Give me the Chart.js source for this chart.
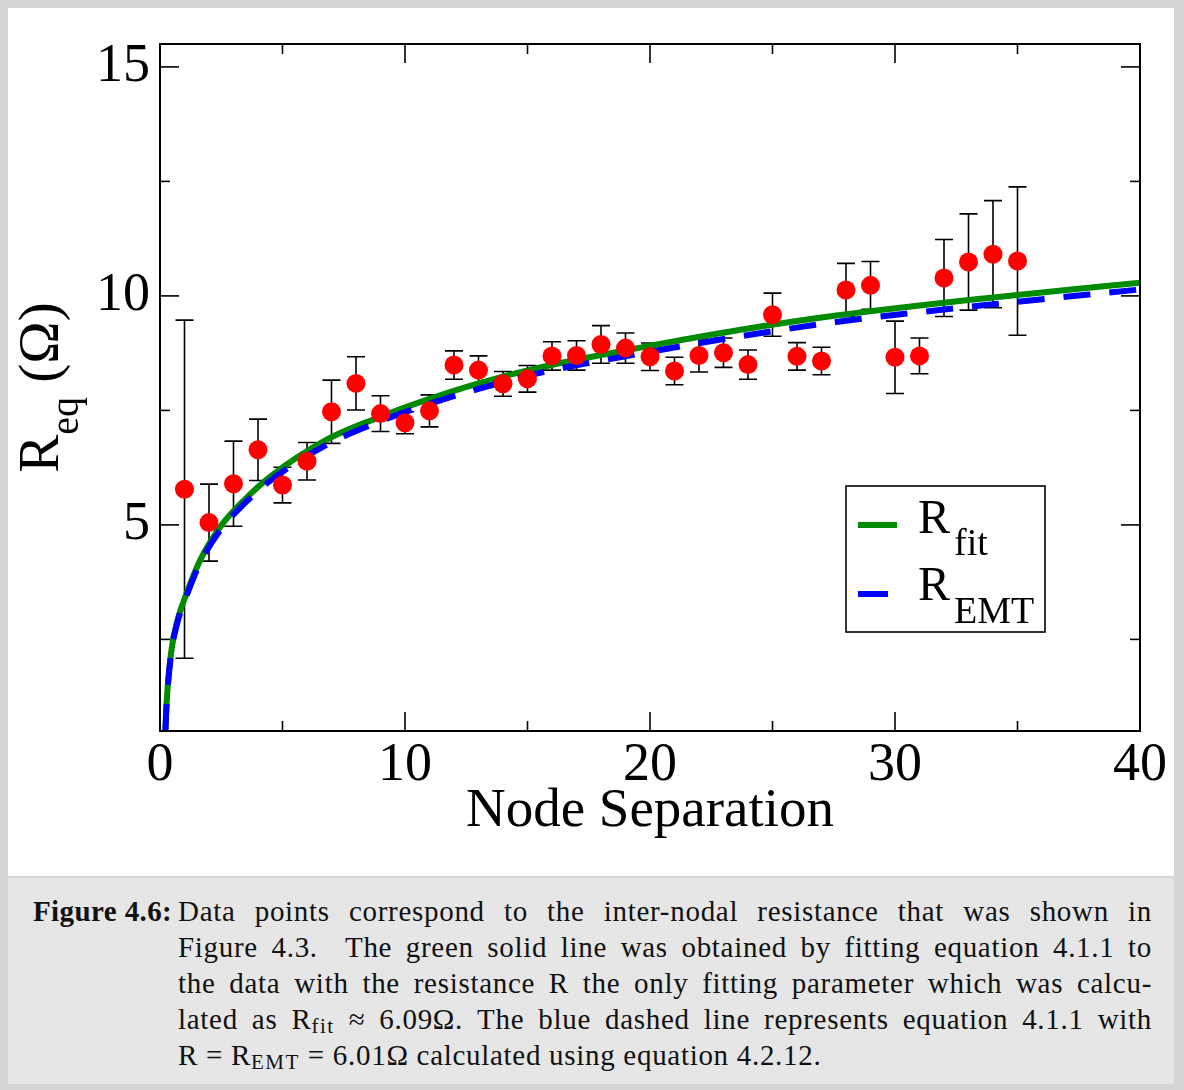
<!DOCTYPE html>
<html>
<head>
<meta charset="utf-8">
<script src="https://cdn.jsdelivr.net/npm/chart.js@4.4.0/dist/chart.umd.min.js"></script>
<style>
  html, body { margin: 0; padding: 0; }
  body { width: 1184px; height: 1090px; background: #d6d6d6; position: relative; overflow: hidden; }
  #plotBox { position: absolute; left: 8px; top: 8px; width: 1166px; height: 868px; background: #fff; }
  #caption { position: absolute; left: 8px; top: 878px; width: 1166px; height: 206px; background: #e6e6e6;
             font-family: "Liberation Serif", serif; font-size: 29px; letter-spacing: 0.7px; color: #111; }
  #caption .lab { position: absolute; left: 25px; top: 15px; line-height: 36px; font-weight: bold; letter-spacing: 0.4px; }
  #caption .body { position: absolute; left: 170px; top: 15px; width: 974px; }
  #caption .ln { line-height: 36px; height: 36px; text-align: justify; text-align-last: justify; white-space: nowrap; }
  #caption .ln.last { text-align-last: left; }
  #caption sub { font-size: 21px; vertical-align: -4px; letter-spacing: 1.5px; }
</style>
</head>
<body>
<div id="plotBox"><canvas id="chart" width="1166" height="868"></canvas></div>
<div id="caption">
  <div class="lab">Figure 4.6:</div>
  <div class="body">
    <div class="ln">Data points correspond to the inter-nodal resistance that was shown in</div>
    <div class="ln">Figure 4.3. &nbsp;The green solid line was obtained by fitting equation 4.1.1 to</div>
    <div class="ln">the data with the resistance R the only fitting parameter which was calcu-</div>
    <div class="ln">lated as R<sub>fit</sub> &asymp; 6.09&Omega;. The blue dashed line represents equation 4.1.1 with</div>
    <div class="ln last">R = R<sub>EMT</sub> = 6.01&Omega; calculated using equation 4.2.12.</div>
  </div>
</div>
<script>
// measured inter-nodal resistance
const nodeSep = [1, 2, 3, 4, 5, 6, 7, 8, 9, 10, 11, 12, 13, 14, 15, 16, 17, 18, 19, 20,
                 21, 22, 23, 24, 25, 26, 27, 28, 29, 30, 31, 32, 33, 34, 35];
const reqMean = [5.78, 5.05, 5.90, 6.64, 5.87, 6.39, 7.47, 8.09, 7.43, 7.23, 7.49, 8.49, 8.38, 8.08, 8.19,
                 8.69, 8.70, 8.94, 8.86, 8.67, 8.36, 8.70, 8.76, 8.50, 9.59, 8.68, 8.58, 10.13, 10.23, 8.66,
                 8.69, 10.39, 10.74, 10.91, 10.76];
const reqErr = [3.69, 0.84, 0.93, 0.67, 0.39, 0.41, 0.69, 0.58, 0.39, 0.24, 0.35, 0.31, 0.31, 0.27, 0.29,
                0.31, 0.32, 0.41, 0.33, 0.30, 0.30, 0.36, 0.32, 0.32, 0.47, 0.30, 0.30, 0.58, 0.52, 0.79,
                0.39, 0.84, 1.05, 1.17, 1.62];

// fitted curve (green) and EMT curve (blue)
const curveX = [0.22, 0.27, 0.45, 0.72, 1.09, 1.63, 2.45, 3.47, 4.49, 6.8, 8.84, 10.88, 12.93, 15.6, 19.6, 23.7, 27.6, 33.7, 40];
const rFit = [0.5, 1.11, 2.20, 2.93, 3.51, 4.22, 4.95, 5.56, 6.05, 6.86, 7.33, 7.73, 8.08, 8.45, 8.87, 9.26, 9.57, 9.95, 10.29];
const rEmt = [0.5, 1.09, 2.17, 2.89, 3.46, 4.16, 4.88, 5.48, 5.96, 6.75, 7.23, 7.62, 7.96, 8.33, 8.74, 9.12, 9.43, 9.80, 10.14];

// axis ticks
const xMajor = [0, 10, 20, 30, 40];
const xMinor = [5, 15, 25, 35];
const yMajor = [5, 10, 15];
const yMinor = [2.5, 7.5, 12.5];

const SERIF = '"Liberation Serif", "Times New Roman", serif';
const GREEN = '#008b00';
const BLUE = '#0000ff';

const pts = (xs, ys) => xs.map((v, i) => ({ x: v, y: ys[i] }));

const errorBars = {
  id: 'errorBars',
  beforeDatasetsDraw(chart) {
    const { ctx, chartArea: a, scales: { x, y } } = chart;
    ctx.save();
    ctx.beginPath();
    ctx.rect(a.left, a.top, a.right - a.left, a.bottom - a.top);
    ctx.clip();
    ctx.strokeStyle = '#000';
    ctx.lineWidth = 1.6;
    nodeSep.forEach((n, i) => {
      const px = x.getPixelForValue(n);
      const top = y.getPixelForValue(reqMean[i] + reqErr[i]);
      const bot = y.getPixelForValue(reqMean[i] - reqErr[i]);
      ctx.beginPath();
      ctx.moveTo(px, top); ctx.lineTo(px, bot);
      ctx.moveTo(px - 9, top); ctx.lineTo(px + 9, top);
      ctx.moveTo(px - 9, bot); ctx.lineTo(px + 9, bot);
      ctx.stroke();
    });
    ctx.restore();
  }
};

const frameAndTicks = {
  id: 'frameAndTicks',
  afterDatasetsDraw(chart) {
    const { ctx, chartArea: a, scales: { x, y } } = chart;
    ctx.save();
    ctx.strokeStyle = '#000';
    ctx.lineWidth = 1.6;
    const seg = (x1, y1, x2, y2) => { ctx.beginPath(); ctx.moveTo(x1, y1); ctx.lineTo(x2, y2); ctx.stroke(); };
    xMajor.forEach(v => { const p = x.getPixelForValue(v); seg(p, a.bottom, p, a.bottom - 19); seg(p, a.top, p, a.top + 19); });
    xMinor.forEach(v => { const p = x.getPixelForValue(v); seg(p, a.bottom, p, a.bottom - 10); seg(p, a.top, p, a.top + 10); });
    yMajor.forEach(v => { const p = y.getPixelForValue(v); seg(a.left, p, a.left + 19, p); seg(a.right, p, a.right - 19, p); });
    yMinor.forEach(v => { const p = y.getPixelForValue(v); seg(a.left, p, a.left + 10, p); seg(a.right, p, a.right - 10, p); });
    ctx.lineWidth = 2;
    ctx.strokeRect(a.left, a.top, a.right - a.left, a.bottom - a.top);
    ctx.restore();
  }
};

// axis titles and legend need subscripts, so they are drawn by hand
const labels = {
  id: 'labels',
  afterDraw(chart) {
    const { ctx, chartArea: a } = chart;
    ctx.save();
    ctx.fillStyle = '#000';
    ctx.textBaseline = 'alphabetic';

    // x title
    ctx.font = '55px ' + SERIF;
    ctx.textAlign = 'center';
    ctx.fillText('Node Separation', (a.left + a.right) / 2, a.bottom + 95);

    // y title
    ctx.textAlign = 'left';
    ctx.translate(50, (a.top + a.bottom) / 2);
    ctx.rotate(-Math.PI / 2);
    ctx.font = '57px ' + SERIF;
    const wR = ctx.measureText('R').width;
    const wP = ctx.measureText(' (\u03A9)').width;
    ctx.font = '40px ' + SERIF;
    const wS = ctx.measureText('eq').width;
    let sx = -(wR + wS + wP) / 2;
    ctx.font = '57px ' + SERIF;
    ctx.fillText('R', sx, 0);
    ctx.font = '40px ' + SERIF;
    ctx.fillText('eq', sx + wR, 20);
    ctx.font = '57px ' + SERIF;
    ctx.fillText(' (\u03A9)', sx + wR + wS, 0);
    ctx.setTransform(1, 0, 0, 1, 0, 0);

    // legend box
    const bx = a.right - 294, by = a.top + 442;
    ctx.fillStyle = '#fff';
    ctx.fillRect(bx, by, 199, 146);
    ctx.strokeStyle = '#000';
    ctx.lineWidth = 1.6;
    ctx.strokeRect(bx, by, 199, 146);
    ctx.lineWidth = 6;
    ctx.strokeStyle = GREEN;
    ctx.beginPath(); ctx.moveTo(bx + 12, by + 39); ctx.lineTo(bx + 51, by + 39); ctx.stroke();
    ctx.strokeStyle = BLUE;
    ctx.beginPath(); ctx.moveTo(bx + 12, by + 108); ctx.lineTo(bx + 42, by + 108); ctx.stroke();
    ctx.fillStyle = '#000';
    ctx.font = '48px ' + SERIF;
    ctx.fillText('R', bx + 72, by + 47);
    ctx.fillText('R', bx + 72, by + 114);
    ctx.font = '38px ' + SERIF;
    ctx.fillText('fit', bx + 108, by + 69);
    ctx.fillText('EMT', bx + 108, by + 137);
    ctx.restore();
  }
};

new Chart(document.getElementById('chart'), {
  type: 'scatter',
  data: {
    datasets: [
      {
        label: 'data',
        data: pts(nodeSep, reqMean),
        pointRadius: 9.5,
        pointHoverRadius: 9.5,
        backgroundColor: '#ff0000',
        borderWidth: 0,
        showLine: false
      },
      {
        label: 'R_EMT',
        data: pts(curveX, rEmt),
        showLine: true,
        borderColor: BLUE,
        borderWidth: 6,
        borderDash: [27, 19],
        pointRadius: 0,
        cubicInterpolationMode: 'monotone'
      },
      {
        label: 'R_fit',
        data: pts(curveX, rFit),
        showLine: true,
        borderColor: GREEN,
        borderWidth: 6,
        pointRadius: 0,
        cubicInterpolationMode: 'monotone'
      }
    ]
  },
  options: {
    responsive: false,
    devicePixelRatio: 1,
    animation: false,
    layout: { autoPadding: false, padding: { left: 0, top: 36, right: 34, bottom: 0 } },
    plugins: { legend: { display: false }, tooltip: { enabled: false } },
    scales: {
      x: {
        type: 'linear', min: 0, max: 40,
        grid: { display: false, drawTicks: false },
        border: { display: false },
        afterBuildTicks: s => { s.ticks = xMajor.map(v => ({ value: v })); },
        afterFit: s => { s.height = 145; s.paddingLeft = 0; s.paddingRight = 0; },
        ticks: { color: '#000', padding: 2, maxRotation: 0, font: { family: SERIF, size: 54 } }
      },
      y: {
        type: 'linear', min: 0.5, max: 15.5,
        grid: { display: false, drawTicks: false },
        border: { display: false },
        afterBuildTicks: s => { s.ticks = yMajor.map(v => ({ value: v })); },
        afterFit: s => { s.width = 152; s.paddingTop = 0; s.paddingBottom = 0; },
        ticks: { color: '#000', padding: 10, font: { family: SERIF, size: 54 } }
      }
    }
  },
  plugins: [errorBars, frameAndTicks, labels]
});
</script>
</body>
</html>
